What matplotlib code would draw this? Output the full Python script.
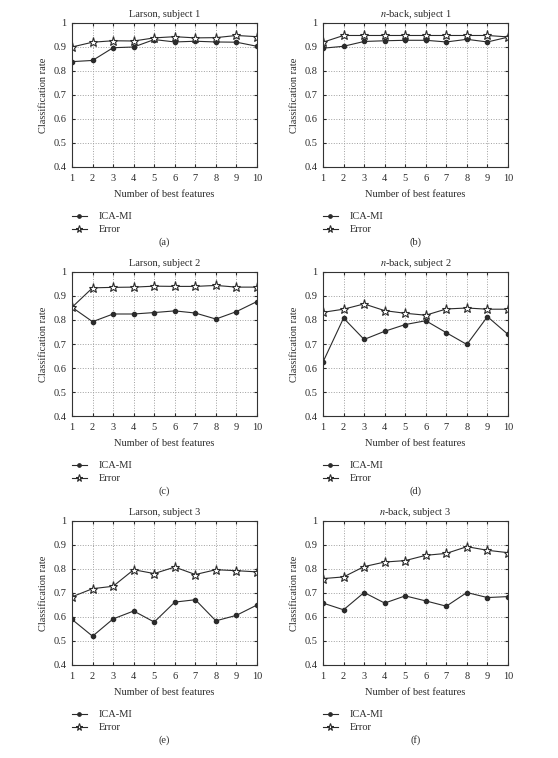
import numpy as np
import matplotlib
matplotlib.use("Agg")
import matplotlib.pyplot as plt

plt.rcParams['font.family'] = ['Liberation Serif', 'DejaVu Serif']
plt.rcParams['mathtext.fontset'] = 'stix'

features = np.arange(1, 11)

# Larson, subject 1
ica_l1 = [0.839, 0.844, 0.897, 0.900, 0.931, 0.921, 0.924, 0.921, 0.920, 0.903]
err_l1 = [0.900, 0.920, 0.926, 0.925, 0.938, 0.943, 0.938, 0.939, 0.948, 0.943]
# n-back, subject 1
ica_n1 = [0.895, 0.903, 0.923, 0.926, 0.928, 0.928, 0.921, 0.932, 0.921, 0.941]
err_n1 = [0.920, 0.948, 0.948, 0.948, 0.948, 0.948, 0.948, 0.948, 0.948, 0.942]
# Larson, subject 2
ica_l2 = [0.853, 0.793, 0.825, 0.825, 0.831, 0.838, 0.829, 0.804, 0.835, 0.877]
err_l2 = [0.853, 0.934, 0.936, 0.937, 0.941, 0.940, 0.940, 0.944, 0.937, 0.937]
# n-back, subject 2
ica_n2 = [0.625, 0.808, 0.719, 0.753, 0.781, 0.797, 0.747, 0.698, 0.814, 0.740]
err_n2 = [0.832, 0.845, 0.867, 0.839, 0.828, 0.820, 0.846, 0.850, 0.845, 0.845]
# Larson, subject 3
ica_l3 = [0.590, 0.520, 0.592, 0.625, 0.579, 0.662, 0.672, 0.584, 0.607, 0.650]
err_l3 = [0.684, 0.718, 0.728, 0.797, 0.781, 0.808, 0.777, 0.797, 0.793, 0.788]
# n-back, subject 3
ica_n3 = [0.658, 0.630, 0.702, 0.658, 0.688, 0.667, 0.645, 0.702, 0.681, 0.685]
err_n3 = [0.760, 0.767, 0.810, 0.829, 0.835, 0.857, 0.865, 0.893, 0.878, 0.868]

titles = ["Larson, subject 1", "$\\it{n}$-back, subject 1",
          "Larson, subject 2", "$\\it{n}$-back, subject 2",
          "Larson, subject 3", "$\\it{n}$-back, subject 3"]
panel_labels = ["(a)", "(b)", "(c)", "(d)", "(e)", "(f)"]
ica_all = [ica_l1, ica_n1, ica_l2, ica_n2, ica_l3, ica_n3]
err_all = [err_l1, err_n1, err_l2, err_n2, err_l3, err_n3]
yticks = [0.4, 0.5, 0.6, 0.7, 0.8, 0.9, 1]
ytick_labels = ["0.4", "0.5", "0.6", "0.7", "0.8", "0.9", "1"]

W, H = 558, 758
fig = plt.figure(figsize=(W / 100, H / 100), dpi=100)

lefts = [72, 323]
tops = [23, 272, 521]
aw, ah = 185, 144
fs = 7.5
lc = '#2b2b2b'

for i in range(6):
    r, c = i // 2, i % 2
    x0 = lefts[c]
    y0 = tops[r]
    ax = fig.add_axes([x0 / W, 1 - (y0 + ah) / H, aw / W, ah / H])
    ax.plot(features, ica_all[i], color=lc, lw=0.8, marker='o', ms=3.0,
            mfc=lc, mec=lc, label='ICA-MI')
    ax.plot(features, err_all[i], color=lc, lw=0.8, marker='*', ms=6.5,
            mfc='white', mec=lc, mew=0.8, label='Error')
    ax.set_xlim(1, 10)
    ax.set_ylim(0.4, 1)
    ax.set_xticks(features)
    ax.set_yticks(yticks)
    ax.set_yticklabels(ytick_labels)
    ax.grid(True, linestyle=':', color='#a0a0a0', lw=0.7)
    ax.tick_params(direction='in', length=2, labelsize=fs, colors=lc,
                   top=True, right=True)
    ax.tick_params(axis='x', pad=5)
    ax.tick_params(axis='y', pad=4)
    for s in ax.spines.values():
        s.set_linewidth(0.8)
        s.set_color('#333333')
    ax.set_title(titles[i], fontsize=fs, color=lc, pad=4)
    ax.set_xlabel("Number of best features", fontsize=fs, color=lc, labelpad=5)
    ax.set_ylabel("Classification rate", fontsize=fs, color=lc, labelpad=4)
    leg = ax.legend(loc='upper left', bbox_to_anchor=(0.0, -0.313),
                    frameon=False, fontsize=fs, handlelength=1.4,
                    labelspacing=0.35, handletextpad=1.2, borderaxespad=0,
                    borderpad=0, markerscale=0.8)
    for t in leg.get_texts():
        t.set_color(lc)
    fig.text((x0 + aw / 2) / W, 1 - (y0 + ah + 75) / H, panel_labels[i],
             ha='center', va='center', fontsize=fs, color=lc)

fig.savefig("out.png", dpi=100)
